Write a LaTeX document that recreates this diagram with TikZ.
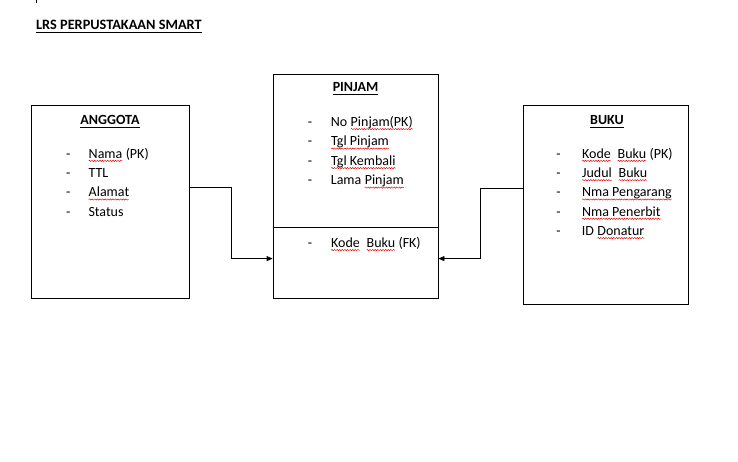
\documentclass[tikz,border=0pt]{standalone}
\usepackage{fontspec}
\setmainfont{Carlito}
\usetikzlibrary{arrows.meta,calc,decorations.pathmorphing}
\newcommand\sqw[1]{\tikz[baseline=(sqwn.base)]{\node[inner sep=0pt,outer sep=0pt](sqwn){#1};\draw[spell] ([yshift=-2.6pt]sqwn.base west)--([yshift=-2.6pt]sqwn.base east);}}
\tikzset{
  spell/.style={draw=red!90!black,line width=0.45pt,decorate,decoration={snake,amplitude=0.65pt,segment length=2.6pt}},
  entity/.style={draw,line width=0.8pt,inner sep=0pt},
  txt/.style={anchor=base west,inner sep=0pt,font=\fontsize{14}{16}\selectfont},
  dsh/.style={anchor=base,inner sep=0pt,font=\fontsize{14}{16}\selectfont},
  ttl/.style={anchor=base,inner sep=0pt,font=\fontsize{14}{16}\selectfont\bfseries},
  uline/.style={line width=0.8pt},
  conn/.style={line width=0.8pt,-{Triangle[length=6pt,width=5pt]}}
}
\begin{document}
\begin{tikzpicture}[x=1pt,y=-1pt]
\useasboundingbox (0,0) rectangle (738,462);
\fill[white] (0,0) rectangle (738,462);
% stray mark
\draw[line width=0.8pt] (36,0) -- (36,3);
% page title
\node[txt,font=\fontsize{14.3}{16}\selectfont\bfseries] (title) at (36,30) {LRS PERPUSTAKAAN SMART};
\draw[uline] ([yshift=-2pt]title.base west) -- ([yshift=-2pt]title.base east);

% entity boxes
\node[entity,minimum width=158pt,minimum height=193pt] (anggota) at (110,201.5) {};
\node[entity,minimum width=165pt,minimum height=224pt] (pinjam) at (355.5,186) {};
\node[entity,minimum width=165pt,minimum height=199pt] (buku) at (605.5,204.5) {};
\draw[line width=0.8pt] ($(pinjam.north west)+(0,154)$) -- ($(pinjam.north east)+(0,154)$);

% ANGGOTA
\node[ttl] (tA) at (110,124.5) {ANGGOTA};
\draw[uline] ([yshift=-2.6pt]tA.base west) -- ([yshift=-2.6pt]tA.base east);
\foreach \y/\t [count=\i] in {158.3/{\sqw{Nama} (PK)},177.6/{TTL},196.9/{\sqw{Alamat}},216.2/{Status}}{
  \node[dsh] (dA\i) at (68.3,\y) {-};
  \node[txt] (iA\i) at (88.3,\y) {\t};
}

% PINJAM
\node[ttl] (tP) at (355.5,92) {PINJAM};
\draw[uline] ([yshift=-2.6pt]tP.base west) -- ([yshift=-2.6pt]tP.base east);
\foreach \y/\t [count=\i] in {126.5/{No \sqw{Pinjam(PK)}},146/{\sqw{Tgl Pinjam}},165.5/{\sqw{Tgl Kembali}},185/{Lama \sqw{Pinjam}}}{
  \node[dsh] (dP\i) at (310,\y) {-};
  \node[txt] (iP\i) at (330.7,\y) {\t};
}
\node[dsh] (dP5) at (310,247.5) {-};
\node[txt] (iP5) at (330.7,247.5) {\sqw{Kode}\ \ \sqw{Buku} (FK)};

% BUKU
\node[ttl] (tB) at (607,124.5) {BUKU};
\draw[uline] ([yshift=-2.6pt]tB.base west) -- ([yshift=-2.6pt]tB.base east);
\foreach \y/\t [count=\i] in {158.3/{\sqw{Kode}\ \ \sqw{Buku} (PK)},177.6/{\sqw{Judul}\ \ \sqw{Buku}},196.9/{\sqw{Nma Pengarang}},216.2/{\sqw{Nma Penerbit}},235.5/{ID \sqw{Donatur}}}{
  \node[dsh] (dB\i) at (558.5,\y) {-};
  \node[txt] (iB\i) at (581.7,\y) {\t};
}

% connectors
\draw[conn] ($(anggota.north east)+(0,83)$) -- ++(42,0) |- ($(pinjam.north west)+(0,185)$);
\draw[conn] ($(buku.north west)+(0,84)$) -- ++(-42,0) |- ($(pinjam.north east)+(0,185)$);
\end{tikzpicture}
\end{document}
